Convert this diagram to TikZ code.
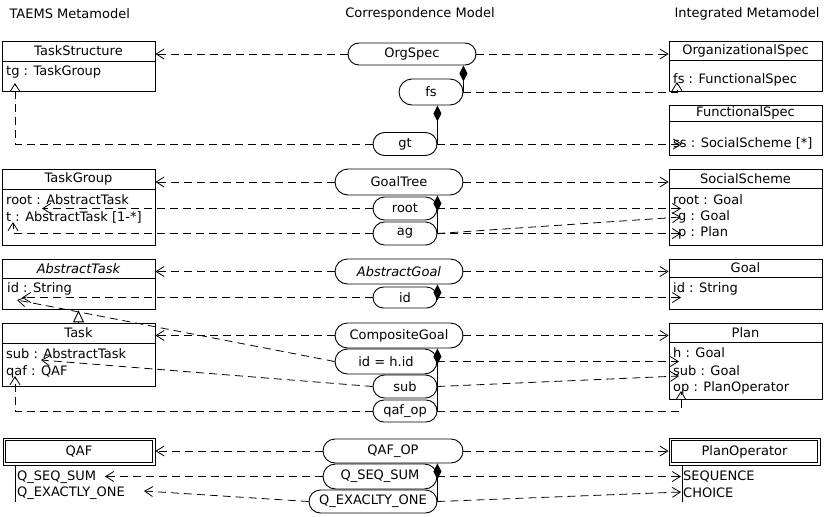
\documentclass[tikz,border=0pt]{standalone}
\usepackage{fontspec}
\setmainfont{DejaVu Sans}
\usetikzlibrary{positioning,arrows.meta,shapes.misc}

\begin{document}
\begin{tikzpicture}[x=1pt,y=-1pt,
  every node/.style={font=\fontsize{13}{15}\selectfont},
  cls/.style={draw,line width=.9pt,minimum width=153pt,inner sep=0pt},
  enum/.style={draw,line width=.9pt,minimum width=152pt,minimum height=27pt,inner sep=0pt},
  attr/.style={anchor=west,inner sep=0pt},
  corr/.style={draw,rounded rectangle,line width=.9pt,inner xsep=0pt,inner ysep=0pt,minimum height=23pt},
  dep/.style={line width=.8pt,dash pattern=on 8pt off 5pt,-{Straight Barb[length=8pt,width=10pt]}},
  comp/.style={line width=.9pt,{Diamond[length=16pt,width=8pt]}-},
  gen/.style={line width=.9pt,-{Triangle[open,length=12pt,width=11pt,fill=white]}}]
\useasboundingbox (0,0) rectangle (828,517);
%titles
\node[anchor=west] (tleft) at (6,14) {TAEMS Metamodel};
\node (tmid) at (420,14) {Correspondence Model};
\node[anchor=east] (tright) at (823,14) {Integrated Metamodel};
%TAEMS classes
\node[cls,minimum height=20pt] (TS) at (78.5,51) {TaskStructure};
\node[cls,minimum height=30pt,below=0pt of TS] (TSb) {};
\node[attr] (TStg) at (6,72) {tg : TaskGroup};
\node[cls,minimum height=20pt] (TG) at (78.5,179) {TaskGroup};
\node[cls,minimum height=56pt,below=0pt of TG] (TGb) {};
\node[attr] (TGroot) at (6,200) {root : AbstractTask};
\node[attr] (TGt) at (6,217) {t : AbstractTask [1-*]};
\node[cls,minimum height=19pt] (AT) at (78.5,268.5) {\itshape AbstractTask};
\node[cls,minimum height=31pt,below=0pt of AT] (ATb) {};
\node[attr] (ATid) at (7,289) {id : String};
\node[cls,minimum height=20pt] (TK) at (78.5,333) {Task};
\node[cls,minimum height=43pt,below=0pt of TK] (TKb) {};
\node[attr] (TKsub) at (6,354) {sub : AbstractTask};
\node[attr] (TKqaf) at (6,372) {qaf : QAF};
\node[enum] (QAF) at (79,451.5) {QAF};
\draw[line width=.9pt] ([shift={(3,3)}]QAF.north west) rectangle ([shift={(-3,-3)}]QAF.south east);
\draw[line width=.9pt] (15,465) -- (15,502);
\node[attr] (QAFseq) at (17,477) {Q\_SEQ\_SUM};
\node[attr] (QAFexa) at (17,493) {Q\_EXACTLY\_ONE};
%integrated classes
\node[cls,minimum height=19pt] (OS) at (745.5,50.5) {OrganizationalSpec};
\node[cls,minimum height=31pt,below=0pt of OS] (OSb) {};
\node[attr] (OSfs) at (673,80) {fs : FunctionalSpec};
\node[cls,minimum height=16pt] (FS) at (745.5,113) {FunctionalSpec};
\node[cls,minimum height=34pt,below=0pt of FS] (FSb) {};
\node[attr] (FSss) at (673,143) {ss : SocialScheme [*]};
\node[cls,minimum height=19pt] (SS) at (745.5,178.5) {SocialScheme};
\node[cls,minimum height=57pt,below=0pt of SS] (SSb) {};
\node[attr] (SSroot) at (673,200) {root : Goal};
\node[attr] (SSg) at (678,217) {g : Goal};
\node[attr] (SSp) at (678,233) {p : Plan};
\node[cls,minimum height=18pt] (GL) at (745.5,268) {Goal};
\node[cls,minimum height=32pt,below=0pt of GL] (GLb) {};
\node[attr] (GLid) at (673,289) {id : String};
\node[cls,minimum height=19pt] (PL) at (745.5,332.5) {Plan};
\node[cls,minimum height=57pt,below=0pt of PL] (PLb) {};
\node[attr] (PLh) at (673,353) {h : Goal};
\node[attr] (PLsub) at (673,371) {sub : Goal};
\node[attr] (PLop) at (673,388) {op : PlanOperator};
\node[enum,minimum width=151pt] (PO) at (744.5,451.5) {PlanOperator};
\draw[line width=.9pt] ([shift={(3,3)}]PO.north west) rectangle ([shift={(-3,-3)}]PO.south east);
\draw[line width=.9pt] (682,465) -- (682,502);
\node[attr] (POseq) at (683,477) {SEQUENCE};
\node[attr] (POcho) at (683,493) {CHOICE};
%correspondence model
\node[corr,minimum width=128pt,minimum height=22pt] (OrgSpec) at (412,54) {OrgSpec};
\node[corr,minimum width=64pt,minimum height=26pt] (fs) at (431,92) {fs};
\node[corr,minimum width=64pt] (gt) at (405,144) {gt};
\node[corr,minimum width=128pt,minimum height=26pt] (GoalTree) at (399,182) {GoalTree};
\node[corr,minimum width=64pt] (root) at (405,208.5) {root};
\node[corr,minimum width=64pt] (ag) at (405,233.5) {ag};
\node[corr,minimum width=128pt,minimum height=25pt] (AbsGoal) at (399,271.5) {\itshape AbstractGoal};
\node[corr,minimum width=64pt,minimum height=21pt] (id) at (405,297.5) {id};
\node[corr,minimum width=128pt,minimum height=25pt] (CompGoal) at (399,335.5) {CompositeGoal};
\node[corr,minimum width=102pt,minimum height=25pt] (idh) at (386,361.5) {id = h.id};
\node[corr,minimum width=64pt] (sub) at (405,386.5) {sub};
\node[corr,minimum width=64pt,minimum height=22pt] (qafop) at (405,411) {qaf\_op};
\node[corr,minimum width=140pt,minimum height=24pt] (QAFOP) at (393,451) {QAF\_OP};
\node[corr,minimum width=114pt,minimum height=25pt] (qseq) at (380,476.5) {Q\_SEQ\_SUM};
\node[corr,minimum width=128pt] (qexa) at (373,501.5) {Q\_EXACLTY\_ONE};
%arrow ends at attributes
\coordinate (tipTS) at (15,83);
\coordinate (tipOS) at (677,82);
\coordinate (tipFS) at (682,144);
\coordinate (tipTGroot) at (42,208.5);
\coordinate (tipSSroot) at (681,208.5);
\coordinate (tipTGt) at (13,222);
\coordinate (tipSSg) at (681,217);
\coordinate (tipSSp) at (681,233.5);
\coordinate (tipATid) at (22,297.5);
\coordinate (tipATid2) at (17,300);
\coordinate (tipGLid) at (681,297.5);
\coordinate (tipPLh) at (679,361.5);
\coordinate (tipTKsub) at (41,360);
\coordinate (tipPLsub) at (679,376);
\coordinate (tipTKqaf) at (15,376);
\coordinate (tipPLop) at (681,391);
\coordinate (tipQAFseq) at (105,476.5);
\coordinate (tipPOseq) at (681,476.5);
\coordinate (tipQAFexa) at (144,491);
\coordinate (tipPOcho) at (681,492);
%compositions
\draw[comp] (fs.east |- OrgSpec.south) -- (fs.east);
\draw[comp] (gt.east |- fs.south) -- (gt.east);
\draw[comp] (ag.east |- GoalTree.south) -- (ag.east);
\draw[comp] (id.east |- AbsGoal.south) -- (id.east);
\draw[comp] (qafop.east |- CompGoal.south) -- (qafop.east);
\draw[comp] (qexa.east |- QAFOP.south) -- (qexa.east);
%generalization
\draw[gen] (TK.north) -- (ATb.south);
%correspondences
\draw[dep] (OrgSpec.west) -- (OrgSpec.west -| TS.east);
\draw[dep] (OrgSpec.east) -- (OrgSpec.east -| OS.west);
\draw[dep] (fs.east) -| (tipOS);
\draw[dep] (gt.west) -| (tipTS);
\draw[dep] (gt.east) -- (tipFS);
\draw[dep] (GoalTree.west) -- (GoalTree.west -| TG.east);
\draw[dep] (GoalTree.east) -- (GoalTree.east -| SS.west);
\draw[dep] (root.west) -- (tipTGroot);
\draw[dep] (root.east) -- (tipSSroot);
\draw[dep] (ag.west) -| (tipTGt);
\draw[dep] (ag.east) -- (tipSSg);
\draw[dep] (ag.east) -- (tipSSp);
\draw[dep] (AbsGoal.west) -- (AbsGoal.west -| AT.east);
\draw[dep] (AbsGoal.east) -- (AbsGoal.east -| GL.west);
\draw[dep] (id.west) -- (tipATid);
\draw[dep] (id.east) -- (tipGLid);
\draw[dep] (CompGoal.west) -- (CompGoal.west -| TK.east);
\draw[dep] (CompGoal.east) -- (CompGoal.east -| PL.west);
\draw[dep] (idh.west) -- (tipATid2);
\draw[dep] (idh.east) -- (tipPLh);
\draw[dep] (sub.west) -- (tipTKsub);
\draw[dep] (sub.east) -- (tipPLsub);
\draw[dep] (qafop.west) -| (tipTKqaf);
\draw[dep] (qafop.east) -| (tipPLop);
\draw[dep] (QAFOP.west) -- (QAFOP.west -| QAF.east);
\draw[dep] (QAFOP.east) -- (QAFOP.east -| PO.west);
\draw[dep] (qseq.west) -- (tipQAFseq);
\draw[dep] (qseq.east) -- (tipPOseq);
\draw[dep] (qexa.west) -- (tipQAFexa);
\draw[dep] (qexa.east) -- (tipPOcho);
\end{tikzpicture}
\end{document}
